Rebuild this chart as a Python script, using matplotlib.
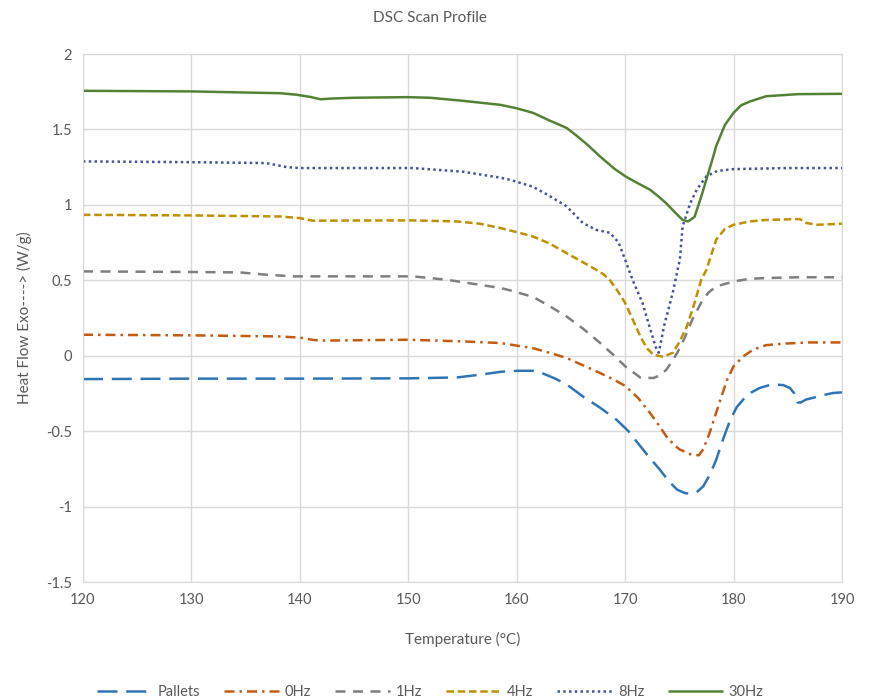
import matplotlib
matplotlib.use("Agg")
import matplotlib.pyplot as plt

# ---- data ----
t_pallets = [120, 130, 140, 150, 154.5, 156.6, 158.6, 160, 161.5, 162.5, 163.5, 164.6, 166.1, 167.7,
             169.2, 170.3, 171.4, 172.3, 173.2, 174, 174.8, 175.5, 176, 176.6, 177.2, 177.8, 178.4,
             179, 179.7, 180.3, 180.9, 181.6, 182.4, 183.2, 184, 184.6, 185.2, 185.6, 185.9, 186.2,
             186.7, 187.3, 188, 189.2, 190]
v_pallets = [-0.155, -0.152, -0.152, -0.150, -0.144, -0.126, -0.106, -0.100, -0.100, -0.12, -0.15,
             -0.19, -0.27, -0.345, -0.424, -0.50, -0.60, -0.68, -0.755, -0.83, -0.888, -0.91, -0.915,
             -0.905, -0.866, -0.79, -0.69, -0.56, -0.424, -0.34, -0.29, -0.245, -0.214, -0.197,
             -0.192, -0.195, -0.214, -0.25, -0.31, -0.31, -0.29, -0.28, -0.265, -0.247, -0.243]

t_0hz = [120, 130, 138, 140, 141.2, 142, 150, 155, 158.5, 161.5, 163, 164.6, 166, 167.7, 169, 170,
         171.2, 172.3, 173.1, 173.8, 174.5, 175, 176.1, 176.8, 177.2, 177.8, 178.7, 179.4, 180,
         180.9, 181.8, 183, 184.6, 187, 190]
v_0hz = [0.139, 0.135, 0.128, 0.12, 0.105, 0.10, 0.106, 0.095, 0.084, 0.05, 0.02, -0.015, -0.06,
         -0.115, -0.16, -0.2, -0.28, -0.38, -0.46, -0.535, -0.59, -0.62, -0.656, -0.66, -0.62,
         -0.51, -0.31, -0.16, -0.07, -0.004, 0.04, 0.07, 0.08, 0.088, 0.088]

t_1hz = [120, 130, 134.5, 136.9, 139.4, 145, 150.4, 153.5, 156.6, 158.5, 159.4, 161.5, 163, 164.6,
         166.1, 167.7, 169, 170, 171.4, 172.6, 173.2, 173.8, 174.3, 174.8, 175.5, 176.2, 177,
         177.7, 178.4, 180, 181.5, 183, 186, 190]
v_1hz = [0.559, 0.555, 0.552, 0.537, 0.526, 0.526, 0.526, 0.504, 0.47, 0.449, 0.433, 0.39, 0.33,
         0.26, 0.18, 0.084, 0.0, -0.07, -0.145, -0.148, -0.13, -0.093, -0.04, 0.018, 0.12, 0.24,
         0.35, 0.42, 0.459, 0.492, 0.51, 0.515, 0.52, 0.52]

t_4hz = [120, 130, 138.2, 140, 141.2, 145, 150.4, 154.5, 156.6, 158.5, 159.4, 160.5, 161.5, 163,
         164.6, 166.1, 167.2, 168, 168.6, 169.3, 170, 170.7, 171.4, 172, 172.6, 173.5, 174.4, 175,
         175.7, 176.4, 177, 177.5, 178.4, 179.2, 180, 181.5, 183, 186.1, 186.7, 187.7, 190]
v_4hz = [0.934, 0.93, 0.923, 0.912, 0.895, 0.896, 0.897, 0.89, 0.875, 0.846, 0.83, 0.81, 0.79,
         0.745, 0.68, 0.62, 0.575, 0.54, 0.50, 0.43, 0.35, 0.24, 0.128, 0.05, 0.007, -0.007, 0.02,
         0.09, 0.195, 0.35, 0.50, 0.57, 0.77, 0.84, 0.868, 0.89, 0.90, 0.906, 0.88, 0.868, 0.875]

t_8hz = [120, 130, 136.9, 138.8, 140, 145, 150.4, 155, 158.5, 159.4, 161.5, 163, 164.6, 166.1,
         167.3, 168.6, 169.4, 170, 170.7, 171.6, 172.3, 172.9, 173.1, 173.6, 174.4, 175.05, 175.3,
         176, 176.6, 177.5, 178.5, 180, 185, 190]
v_8hz = [1.288, 1.283, 1.277, 1.25, 1.244, 1.244, 1.244, 1.22, 1.18, 1.166, 1.12, 1.06, 0.99, 0.88,
         0.835, 0.815, 0.75, 0.636, 0.50, 0.35, 0.18, 0.04, 0.02, 0.2, 0.42, 0.64, 0.857, 1.01,
         1.10, 1.19, 1.225, 1.237, 1.244, 1.244]

t_30hz = [120, 130, 138.2, 139.7, 141, 141.9, 143, 145, 149.9, 152, 155, 158.5, 160, 161.5, 163,
          164.6, 165.5, 166.5, 167.7, 169, 170, 171, 172.3, 173, 173.8, 174.6, 175.3, 175.8, 176.4,
          177, 177.5, 178, 178.4, 179.2, 180, 180.7, 181.5, 183, 186, 190]
v_30hz = [1.756, 1.752, 1.74, 1.73, 1.715, 1.70, 1.705, 1.71, 1.714, 1.71, 1.69, 1.663, 1.64, 1.61,
          1.56, 1.51, 1.46, 1.40, 1.32, 1.24, 1.19, 1.15, 1.10, 1.06, 1.01, 0.95, 0.90, 0.89, 0.92,
          1.05, 1.17, 1.29, 1.39, 1.53, 1.61, 1.66, 1.685, 1.72, 1.734, 1.736]

series_labels = ["Pallets", "0Hz", "1Hz", "4Hz", "8Hz", "30Hz"]
x_ticks = [120, 130, 140, 150, 160, 170, 180, 190]
y_ticks = [-1.5, -1, -0.5, 0, 0.5, 1, 1.5, 2]
y_ticklabels = ["-1.5", "-1", "-0.5", "0", "0.5", "1", "1.5", "2"]

# ---- styling ----
plt.rcParams['font.family'] = ['Lato', 'DejaVu Sans']
txt = "#595959"
fig = plt.figure(figsize=(8.69, 7.0), dpi=100)
ax = fig.add_axes([83/869, 1 - 582/700, (842-83)/869, (582-54)/700])

lw = 1.8
styles = [
    dict(color="#2e75b6", dashes=(8, 3.5)),
    dict(color="#c55a11", dashes=(4, 2, 1, 2)),
    dict(color="#7f7f7f", dashes=(4, 3)),
    dict(color="#bf9000", dashes=(3, 1.5)),
    dict(color="#44549c", dashes=(1, 1.3)),
    dict(color="#548235"),
]
data = [(t_pallets, v_pallets), (t_0hz, v_0hz), (t_1hz, v_1hz), (t_4hz, v_4hz),
        (t_8hz, v_8hz), (t_30hz, v_30hz)]
for (t, v), lab, st in zip(data, series_labels, styles):
    ax.plot(t, v, label=lab, lw=lw, solid_capstyle='butt', dash_capstyle='butt',
            solid_joinstyle='round', **st)

ax.set_xlim(120, 190)
ax.set_ylim(-1.5, 2)
ax.set_xticks(x_ticks)
ax.set_yticks(y_ticks)
ax.set_yticklabels(y_ticklabels)
ax.grid(True, color="#d9d9d9", lw=1)
ax.set_axisbelow(True)
for s in ax.spines.values():
    s.set_color("#d9d9d9")
ax.tick_params(length=0, labelsize=10.5, labelcolor=txt, pad=8)

ax.set_xlabel("Temperature (°C)", fontsize=11, color=txt, labelpad=18)
ax.set_ylabel("Heat Flow Exo----> (W/g)", fontsize=11, color=txt, labelpad=10)
fig.text(0.495, 1 - 18/700, "DSC Scan Profile", ha="center", va="center", fontsize=11, color=txt)

leg = fig.legend(loc="lower center", bbox_to_anchor=(0.495, -0.018), ncol=6, frameon=False,
                 fontsize=10.5, handlelength=3.8, columnspacing=1.6, handletextpad=0.4)
for t in leg.get_texts():
    t.set_color(txt)

fig.savefig("out.png", dpi=100)
